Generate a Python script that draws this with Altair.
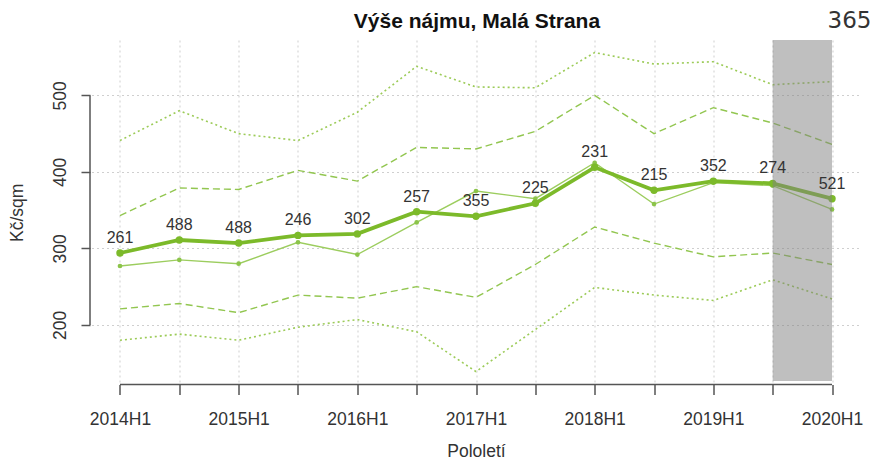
import json
import altair as alt
import pandas as pd

# ---- data ----
periods = ["2014H1", "2014H2", "2015H1", "2015H2", "2016H1", "2016H2", "2017H1",
           "2017H2", "2018H1", "2018H2", "2019H1", "2019H2", "2020H1"]
main_vals = [294, 311, 307, 317, 319, 348, 342, 359, 406, 376, 388, 385, 365]
obs_counts = [261, 488, 488, 246, 302, 257, 355, 225, 231, 215, 352, 274, 521]
thin_vals = [277, 285, 280, 308, 292, 334, 375, 365, 412, 358, 386, 382, 351]
dash_hi = [343, 379, 377, 402, 388, 432, 430, 453, 500, 450, 484, 464, 436]
dash_lo = [221, 228, 216, 239, 235, 250, 236, 279, 328, 307, 289, 294, 279]
dot_hi = [441, 480, 450, 441, 478, 538, 511, 510, 556, 541, 544, 514, 518]
dot_lo = [180, 188, 180, 197, 207, 191, 139, 194, 249, 239, 232, 259, 234]
y_ticks = [200, 300, 400, 500]
tick_labels = [p if p.endswith("H1") else "" for p in periods]
title_text = "Výše nájmu, Malá Strana"
shade_from, shade_to = "2019H2", "2020H1"

idx = list(range(len(periods)))

rows = []
for name, vals in [("main", main_vals), ("thin", thin_vals), ("dash_hi", dash_hi),
                   ("dash_lo", dash_lo), ("dot_hi", dot_hi), ("dot_lo", dot_lo)]:
    for i, v in zip(idx, vals):
        rows.append({"series": name, "i": i, "value": v})
df = pd.DataFrame(rows)
main_df = pd.DataFrame({"i": idx, "value": main_vals, "n": obs_counts})
shade_df = pd.DataFrame({"a": [periods.index(shade_from)], "b": [periods.index(shade_to)]})
axis_df = pd.DataFrame({"x0": [0], "x1": [len(periods) - 1],
                        "y0": [min(y_ticks)], "y1": [max(y_ticks)]})

W, H = 769, 344.6
FONT = "Liberation Sans"
TXT = "#333333"

x_scale = alt.Scale(domain=[-0.48, len(periods) - 1 + 0.48], nice=False, zero=False)
y_scale = alt.Scale(domain=[122, 572.4], nice=False, zero=False)

x_axis = alt.Axis(values=idx, labelExpr=f"{json.dumps(tick_labels)}[datum.value]",
                  domain=False, tickSize=10, tickColor="#555555", tickWidth=1.5,
                  grid=True, gridDash=[2, 3], gridColor="#cfcfcf", gridWidth=1,
                  labelFont=FONT, labelFontSize=17.5, labelColor=TXT, labelPadding=16,
                  labelOverlap=False, labelFlush=False,
                  title="Pololetí", titleFont=FONT, titleFontSize=17.5,
                  titleFontWeight="normal", titleColor=TXT, titleY=67,
                  titleBaseline="middle")
y_axis = alt.Axis(values=y_ticks, domain=False, tickSize=9, tickColor="#555555",
                  tickWidth=1.5, offset=1.5,
                  grid=True, gridDash=[2, 3], gridColor="#cfcfcf", gridWidth=1,
                  labelFont=FONT, labelFontSize=17.5, labelColor=TXT,
                  labelAngle=270, labelAlign="center", labelBaseline="middle",
                  labelPadding=21,
                  title="Kč/sqm", titleFont=FONT, titleFontSize=17.5,
                  titleFontWeight="normal", titleColor=TXT, titleAngle=270,
                  titleAlign="center", titleBaseline="middle", titleX=-73, titleY=H / 2)

X = alt.X("i:Q", scale=x_scale, axis=x_axis)
Y = alt.Y("value:Q", scale=y_scale, axis=y_axis)

base = alt.Chart(df)

dotted = base.transform_filter("indexof(datum.series, 'dot') == 0").mark_line(
    color="#9ccb58", strokeWidth=1.6, strokeDash=[2, 3]).encode(x=X, y=Y, detail="series:N")
dashed = base.transform_filter("indexof(datum.series, 'dash') == 0").mark_line(
    color="#92c650", strokeWidth=1.4, strokeDash=[7, 4]).encode(x=X, y=Y, detail="series:N")
thin = base.transform_filter("datum.series == 'thin'").mark_line(
    color="#9ccd5e", strokeWidth=1.4,
    point=alt.OverlayMarkDef(filled=True, size=22, color="#8cc44a")).encode(x=X, y=Y)
main = alt.Chart(main_df).mark_line(
    color="#7cba2a", strokeWidth=3.8,
    point=alt.OverlayMarkDef(filled=True, size=55, color="#7cba2a")).encode(x=X, y=Y)

shade = alt.Chart(shade_df).mark_rect(color="#808080", opacity=0.5).encode(
    x=alt.X("a:Q", scale=x_scale), x2="b:Q", y=alt.value(0), y2=alt.value(341))

x_line = alt.Chart(axis_df).mark_rule(color="#555555", strokeWidth=1.5).encode(
    x=alt.X("x0:Q", scale=x_scale), x2="x1:Q", y=alt.value(H))
y_line = alt.Chart(axis_df).mark_rule(color="#555555", strokeWidth=1.5).encode(
    y=alt.Y("y0:Q", scale=y_scale), y2="y1:Q", x=alt.value(-1.5))

labels = alt.Chart(main_df).mark_text(
    dy=-15, font=FONT, fontSize=16, color=TXT, baseline="middle").encode(
    x=alt.X("i:Q", scale=x_scale), y=alt.Y("value:Q", scale=y_scale), text="n:Q")

title = alt.Chart(pd.DataFrame({"t": [title_text]})).mark_text(
    font=FONT, fontSize=21, fontWeight="bold", color="#111111", baseline="alphabetic",
    align="center").encode(x=alt.value(W / 2 + 1), y=alt.value(-12), text="t:N")

last_val = alt.Chart(pd.DataFrame({"v": [main_vals[-1]]})).mark_text(
    font="DejaVu Sans", fontSize=23, color=TXT, baseline="alphabetic",
    align="right").encode(x=alt.value(780), y=alt.value(-12), text="v:Q")

chart = alt.layer(dotted, dashed, thin, main, shade, x_line, y_line, labels, title,
                  last_val).properties(
    width=W, height=H,
    autosize=alt.AutoSizeParams(type="none"),
    padding={"left": 83.5, "top": 32, "right": 13.5, "bottom": 76.4},
).configure_view(strokeOpacity=0)

chart.save("out.html", embed_options={"renderer": "svg", "actions": False})
